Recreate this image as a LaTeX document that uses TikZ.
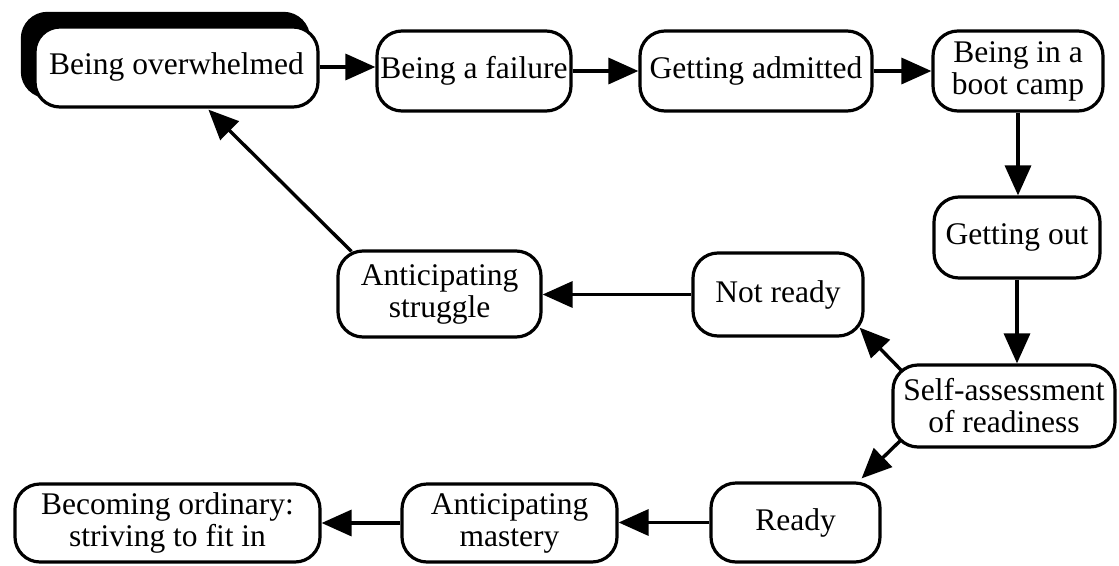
\documentclass[tikz,border=0pt]{standalone}
\usepackage{fontspec}
\setmainfont{Liberation Serif}
\usetikzlibrary{arrows.meta,calc,backgrounds}
\begin{document}
\begin{tikzpicture}[x=1pt,y=-1pt,
  box/.style={draw=black, line width=3.2pt, rounded corners=25pt, fill=white, align=center,
    inner sep=0pt, font=\fontsize{31.5}{32}\selectfont, minimum height=80pt},
  arr/.style={line width=3.4pt, -{Triangle[length=30pt,width=26pt]}},
  shadowfill/.style={fill=black, draw=black, line width=3.2pt, rounded corners=25pt}
]
\useasboundingbox (0,0) rectangle (1119,565);

\node[box, minimum width=283pt, minimum height=80pt] (ov) at (176.5,67) {Being overwhelmed};
\node[box, minimum width=194pt] (fail) at (474,71) {Being a failure};
\node[box, minimum width=232pt] (adm) at (756,71) {Getting admitted};
\node[box, minimum width=170pt] (boot) at (1018,71) {Being in a\\boot camp};
\node[box, minimum width=166pt, minimum height=81pt] (out) at (1017,237.5) {Getting out};
\node[box, minimum width=222pt, minimum height=82pt] (self) at (1004,406) {Self-assessment\\of readiness};
\node[box, minimum width=170pt, minimum height=83pt] (nr) at (778,294.5) {Not ready};
\node[box, minimum width=203pt, minimum height=86pt] (struggle) at (439.5,294) {Anticipating\\struggle};
\node[box, minimum width=169pt, minimum height=79pt] (ready) at (795.5,522.5) {Ready};
\node[box, minimum width=215pt, minimum height=78pt] (mastery) at (509.5,523) {Anticipating\\mastery};
\node[box, minimum width=305pt, minimum height=78pt] (ord) at (167.5,523) {Becoming ordinary:\\striving to fit in};

\begin{scope}[on background layer]
  \path[shadowfill] ($(ov.north west)+(-11,-12)$) rectangle ($(ov.south east)+(-11,-12)$);
\end{scope}

\draw[arr] (ov.east) -- (ov.east -| fail.west);
\draw[arr] (fail.east) -- (adm.west);
\draw[arr] (adm.east) -- (adm.east -| boot.west);
\draw[arr] (boot.south) -- (boot.south |- out.north);
\draw[arr] (out.south) -- (out.south |- self.north);
\draw[arr] ($(self.north west)+(10,7)$) -- ($(nr.south east)+(-5,-10)$);
\draw[arr] ($(self.south west)+(10,-9)$) -- ($(ready.north east)+(-20,-3)$);
\draw[arr] (nr.west) -- (nr.west -| struggle.east);
\draw[arr] ($(struggle.north west)+(15,2)$) -- ($(ov.south west)+(175,1)$);
\draw[arr] (ready.west) -- (ready.west -| mastery.east);
\draw[arr] (mastery.west) -- (mastery.west -| ord.east);
\end{tikzpicture}
\end{document}
